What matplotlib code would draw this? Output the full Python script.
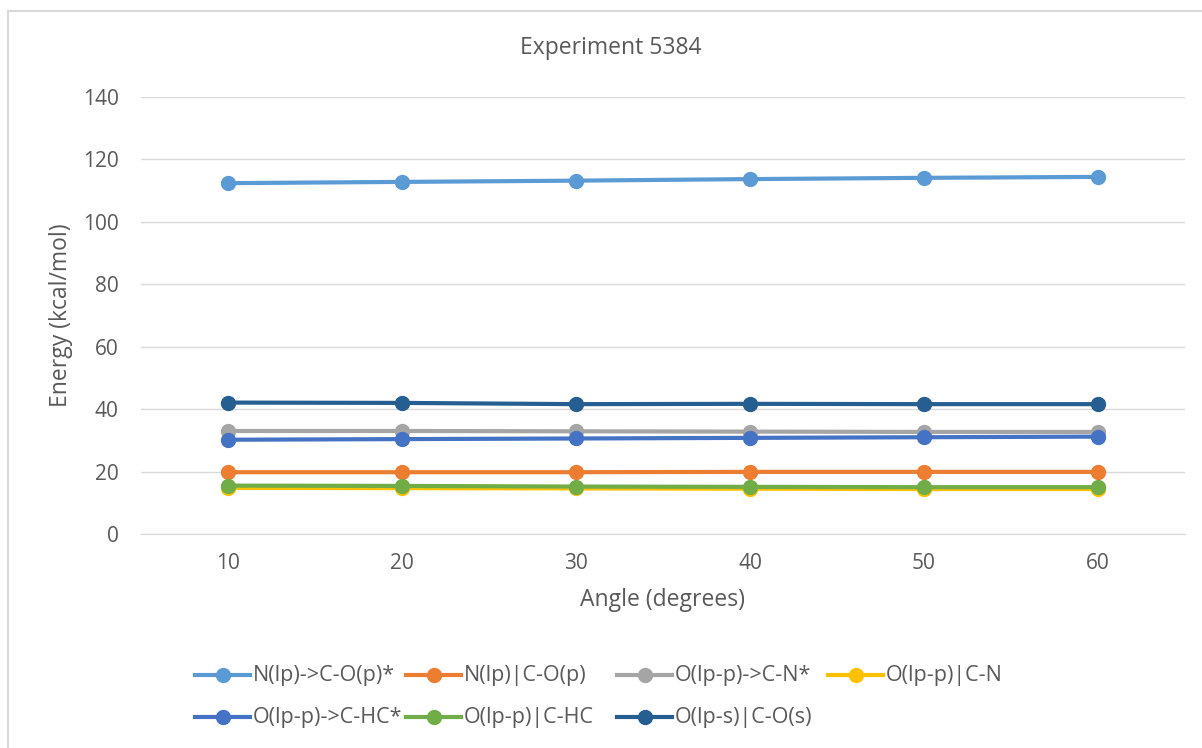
import matplotlib.pyplot as plt
from matplotlib.lines import Line2D
from matplotlib.patches import Rectangle

# Data
angles = [10, 20, 30, 40, 50, 60]
series_names = [
    "N(lp)->C-O(p)*",
    "N(lp)|C-O(p)",
    "O(lp-p)->C-N*",
    "O(lp-p)|C-N",
    "O(lp-p)->C-HC*",
    "O(lp-p)|C-HC",
    "O(lp-s)|C-O(s)",
]
n_co_star = [112.4, 112.8, 113.2, 113.7, 114.1, 114.4]
n_co = [19.8, 19.8, 19.8, 19.9, 19.9, 19.9]
o_cn_star = [33.0, 33.0, 32.9, 32.8, 32.7, 32.7]
o_cn = [14.8, 14.7, 14.6, 14.5, 14.4, 14.4]
o_chc_star = [30.2, 30.4, 30.6, 30.8, 31.0, 31.2]
o_chc = [15.5, 15.4, 15.2, 15.1, 15.0, 15.0]
o_cos = [42.1, 42.0, 41.6, 41.7, 41.6, 41.6]

values = [n_co_star, n_co, o_cn_star, o_cn, o_chc_star, o_chc, o_cos]
colors = ["#5B9BD5", "#ED7D31", "#A5A5A5", "#FFC000", "#4472C4", "#70AD47", "#255E91"]

text_color = "#595959"
plt.rcParams['font.family'] = ['Open Sans', 'DejaVu Sans']

W, H = 1202, 748
fig = plt.figure(figsize=(W / 100, H / 100), dpi=100)
ax = fig.add_axes([141 / W, 1 - 534 / H, 1044 / W, 437 / H])

for name, vals, col in zip(series_names, values, colors):
    ax.plot(angles, vals, color=col, linewidth=3, marker='o',
            markersize=10, label=name, solid_capstyle='round')

ax.set_xlim(5, 65)
ax.set_ylim(0, 140)
ax.set_yticks(range(0, 141, 20))
ax.set_xticks(angles)
ax.grid(axis='y', color='#D9D9D9', linewidth=1)
ax.set_axisbelow(True)
for s in ['top', 'right', 'left']:
    ax.spines[s].set_visible(False)
ax.spines['bottom'].set_color('#D9D9D9')
ax.tick_params(length=0, labelsize=15, labelcolor=text_color)
ax.tick_params(axis='x', pad=14)
ax.tick_params(axis='y', pad=16)

ax.set_xlabel("Angle (degrees)", fontsize=16.5, color=text_color, labelpad=10)
ax.set_ylabel("Energy (kcal/mol)", fontsize=16.5, color=text_color, labelpad=7)
fig.text(611 / W, 1 - 48 / H, "Experiment 5384", fontsize=16.5, color=text_color,
         ha='center', va='center')

# legend drawn by hand: Excel style, equal column widths, row-major order
col_w = 211
for i, (name, col) in enumerate(zip(series_names, colors)):
    row, c = divmod(i, 4)
    x0 = 195 + c * col_w
    y = 1 - (675 + row * 42) / H
    fig.add_artist(Line2D([x0 / W, (x0 + 55) / W], [y, y], color=col, linewidth=3,
                          transform=fig.transFigure))
    fig.add_artist(Line2D([(x0 + 27.5) / W], [y], color=col, marker='o', markersize=10,
                          transform=fig.transFigure))
    fig.text((x0 + 58) / W, y, name, fontsize=15.5, color=text_color,
             ha='left', va='center')

# chart border: only left and top edges fall inside the image
fig.patches.append(Rectangle((8 / W, -0.1), 1.2, 1.1 - 11 / H, transform=fig.transFigure,
                             fill=False, edgecolor='#D9D9D9', linewidth=1.5))

fig.savefig("out.png", dpi=100)
